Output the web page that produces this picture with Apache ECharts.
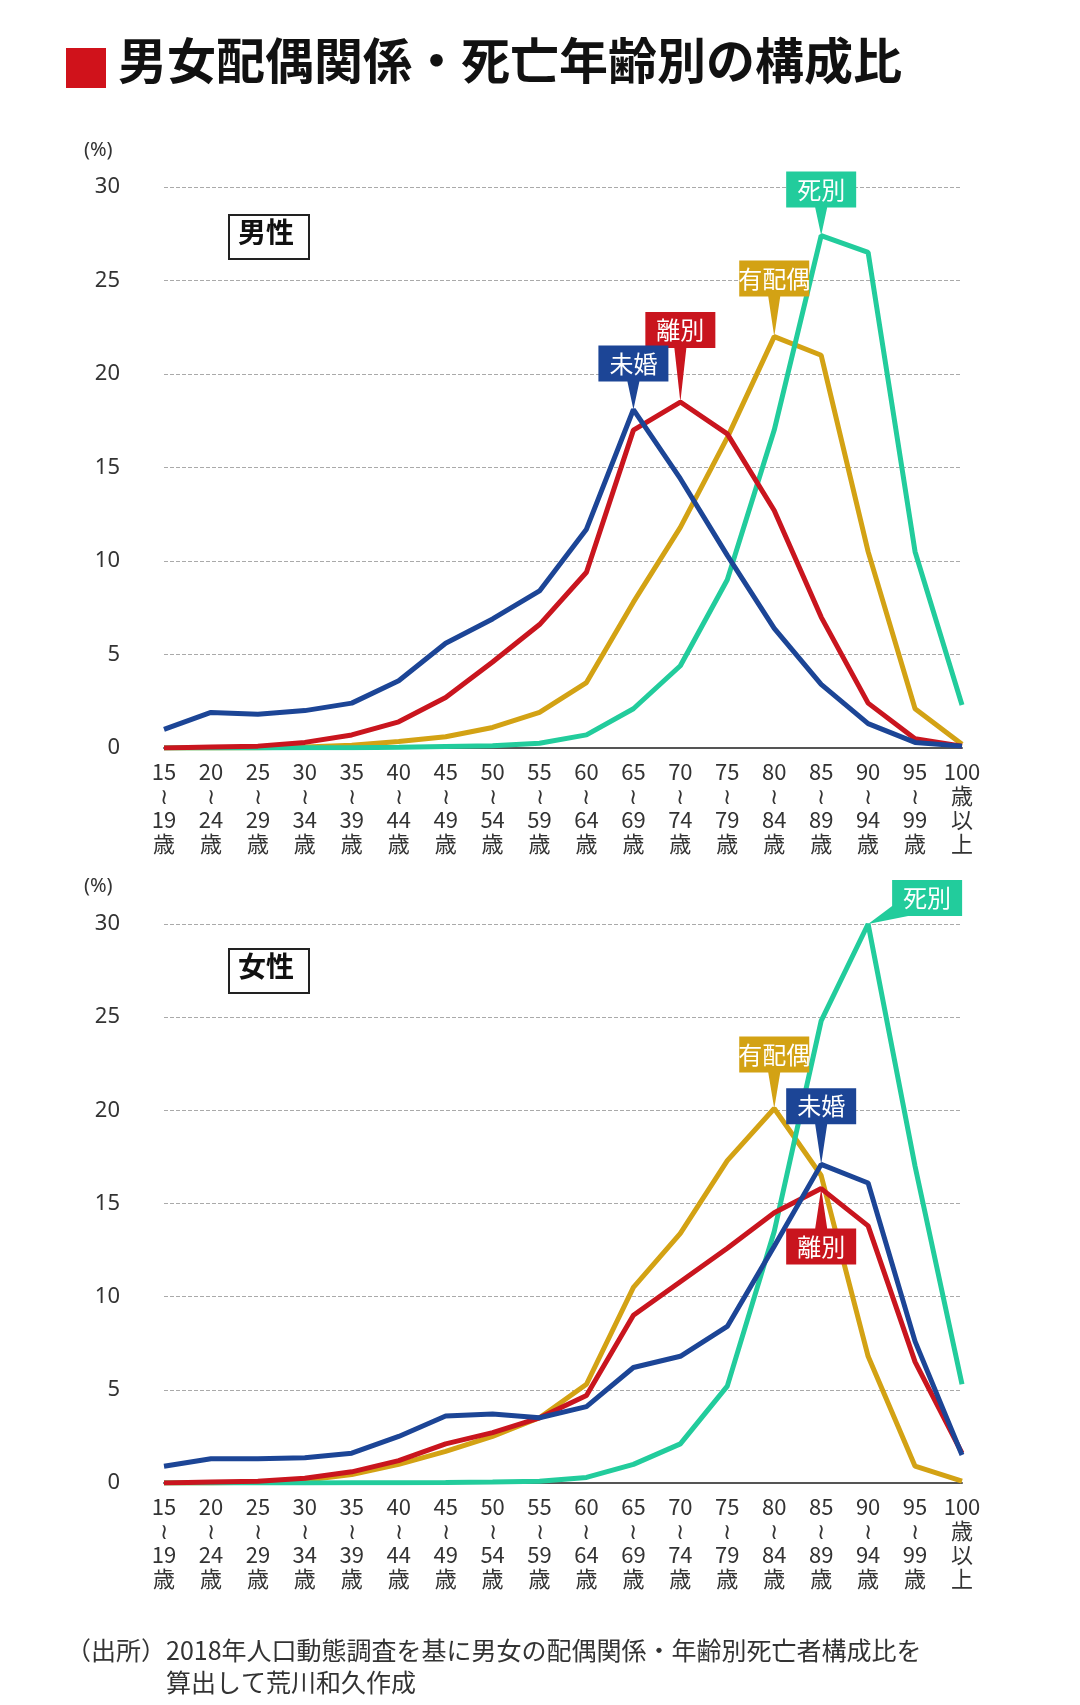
<!DOCTYPE html>
<html><head><meta charset="utf-8">
<script src="https://cdn.jsdelivr.net/npm/echarts@6/dist/echarts.min.js"></script>
<style>html,body{margin:0;background:#fff}#c{width:1080px;height:1705px}</style>
</head><body><div id="c"></div>
<script>
const ages = ['15','20','25','30','35','40','45','50','55','60','65','70','75','80','85','90','95','100'];
const catLabels = ages.map((a, i) => i === ages.length - 1 ? '100\n歳\n以\n上' : a + '\n≀\n' + (+a + 4) + '\n歳');

const maleMikon   = [1.0,1.9,1.8,2.0,2.4,3.6,5.6,6.9,8.4,11.7,18.1,14.4,10.3,6.4,3.4,1.3,0.3,0.1];
const maleRibetsu = [0,0.05,0.1,0.3,0.7,1.4,2.7,4.6,6.6,9.4,17.0,18.5,16.8,12.7,7.0,2.4,0.5,0.1];
const maleHaiguu  = [0,0,0.02,0.05,0.15,0.35,0.6,1.1,1.9,3.5,7.8,11.8,16.6,22.0,21.0,10.5,2.1,0.2];
const maleShibetsu= [0,0,0,0.01,0.02,0.04,0.08,0.12,0.25,0.7,2.1,4.4,9.0,17.0,27.4,26.5,10.5,2.3];

const femMikon    = [0.9,1.3,1.3,1.35,1.6,2.5,3.6,3.7,3.5,4.1,6.2,6.8,8.4,12.7,17.1,16.1,7.6,1.5];
const femRibetsu  = [0,0.05,0.1,0.25,0.6,1.2,2.1,2.7,3.5,4.7,9.0,10.8,12.6,14.5,15.8,13.8,6.5,1.6];
const femHaiguu   = [0,0,0.05,0.15,0.45,1.0,1.7,2.5,3.5,5.3,10.5,13.4,17.3,20.1,16.5,6.8,0.9,0.1];
const femShibetsu = [0,0,0,0,0.01,0.02,0.03,0.05,0.1,0.3,1.0,2.1,5.2,13.5,24.8,30.0,17.0,5.3];

const C = {mikon:'#1c4596', ribetsu:'#c9151e', haiguu:'#d3a214', shibetsu:'#22cc9c'};
const BW = 70, BH = 36;

// callout box with tail; dir: 'down' (box above point), 'up' (box below), 'right' (box to the right)
function callout(idx, data, text, color, dir, tail) {
  let shape, size, off, lab;
  if (dir === 'down') {
    shape = `path://M0,0 H${BW} V${BH} H${BW/2+6} L${BW/2},${BH+tail} L${BW/2-6},${BH} H0 Z`;
    size = [BW, BH + tail]; off = [0, -(BH + tail) / 2]; lab = [0, -(BH / 2 + tail)];
  } else if (dir === 'up') {
    shape = `path://M0,${BH+tail} H${BW} V${tail} H${BW/2+6} L${BW/2},0 L${BW/2-6},${tail} H0 Z`;
    size = [BW, BH + tail]; off = [0, (BH + tail) / 2]; lab = [0, BH / 2 + tail];
  } else {
    const w = BW + tail;
    shape = `path://M${tail},0 H${w} V${BH} H${tail+16} L0,${BH+8} L${tail},${BH-10} Z`;
    size = [w, BH + 8]; off = [w / 2, -(BH + 8) / 2]; lab = [tail + BW / 2, -(BH / 2 + 8)];
  }
  return {
    symbol: shape, symbolKeepAspect: false, symbolSize: size, symbolOffset: off,
    itemStyle: {color}, silent: true,
    label: {show: true, position: 'inside', formatter: text, color: '#fff', fontSize: 24,
      fontFamily: 'Noto Sans CJK JP', offset: [lab[0] - off[0], lab[1] - off[1]]},
    data: [{coord: [idx, data[idx]]}]
  };
}

function line(data, color, gi, mp) {
  return {type: 'line', data, xAxisIndex: gi, yAxisIndex: gi, symbol: 'none',
    lineStyle: {color, width: 5}, itemStyle: {color}, z: 3, markPoint: mp};
}

const grids = [{left: 164, right: 118, top: 187, height: 561}, {left: 164, right: 118, top: 924, height: 559}];
const xAxis = grids.map((g, i) => ({gridIndex: i, type: 'category', data: catLabels, boundaryGap: false,
  axisLine: {lineStyle: {color: '#555', width: 2}}, axisTick: {show: false},
  axisLabel: {color: '#333', fontSize: 22, lineHeight: 24, margin: 12, interval: 0, fontFamily: 'Noto Sans CJK JP'}}));
const yAxis = grids.map((g, i) => ({gridIndex: i, type: 'value', min: 0, max: 30, interval: 5,
  axisLine: {show: false}, axisTick: {show: false},
  axisLabel: {color: '#333', fontSize: 22, margin: 44, fontFamily: 'Noto Sans'},
  splitLine: {lineStyle: {color: '#aaa', type: 'dashed', width: 1}}}));

const boxText = (t, x, y) => ({type: 'group', left: x, top: y, children: [
  {type: 'rect', shape: {width: 80, height: 44}, style: {fill: '#fff', stroke: '#222', lineWidth: 2}},
  {type: 'text', left: 9, top: 3, style: {text: t, font: 'bold 28px "Noto Sans CJK JP"', fill: '#111'}}]});

echarts.init(document.getElementById('c')).setOption({
  backgroundColor: '#fff', animation: false,
  grid: grids, xAxis, yAxis,
  graphic: [
    {type: 'rect', left: 66, top: 48, shape: {width: 40, height: 40}, style: {fill: '#d0121b'}},
    {type: 'text', left: 118, top: 36, style: {text: '男女配偶関係・死亡年齢別の構成比', font: 'bold 49px "Noto Sans CJK JP"', fill: '#111'}},
    {type: 'text', left: 84, top: 140, style: {text: '(%)', font: '20px "Noto Sans"', fill: '#333'}},
    {type: 'text', left: 84, top: 876, style: {text: '(%)', font: '20px "Noto Sans"', fill: '#333'}},
    boxText('男性', 228, 214), boxText('女性', 228, 948),
    {type: 'text', left: 66, top: 1634, style: {text: '（出所）2018年人口動態調査を基に男女の配偶関係・年齢別死亡者構成比を\n　　　　算出して荒川和久作成', font: '25px "Noto Sans CJK JP"', fill: '#333', lineHeight: 32}}
  ],
  series: [
    line(maleHaiguu, C.haiguu, 0, callout(13, maleHaiguu, '有配偶', C.haiguu, 'down', 40)),
    line(maleShibetsu, C.shibetsu, 0, callout(14, maleShibetsu, '死別', C.shibetsu, 'down', 28)),
    line(maleRibetsu, C.ribetsu, 0, callout(11, maleRibetsu, '離別', C.ribetsu, 'down', 54)),
    line(maleMikon, C.mikon, 0, callout(10, maleMikon, '未婚', C.mikon, 'down', 28)),
    line(femHaiguu, C.haiguu, 1, callout(13, femHaiguu, '有配偶', C.haiguu, 'down', 36)),
    line(femShibetsu, C.shibetsu, 1, callout(15, femShibetsu, '死別', C.shibetsu, 'right', 24)),
    line(femRibetsu, C.ribetsu, 1, callout(14, femRibetsu, '離別', C.ribetsu, 'up', 40)),
    line(femMikon, C.mikon, 1, callout(14, femMikon, '未婚', C.mikon, 'down', 40))
  ]
});
</script></body></html>
